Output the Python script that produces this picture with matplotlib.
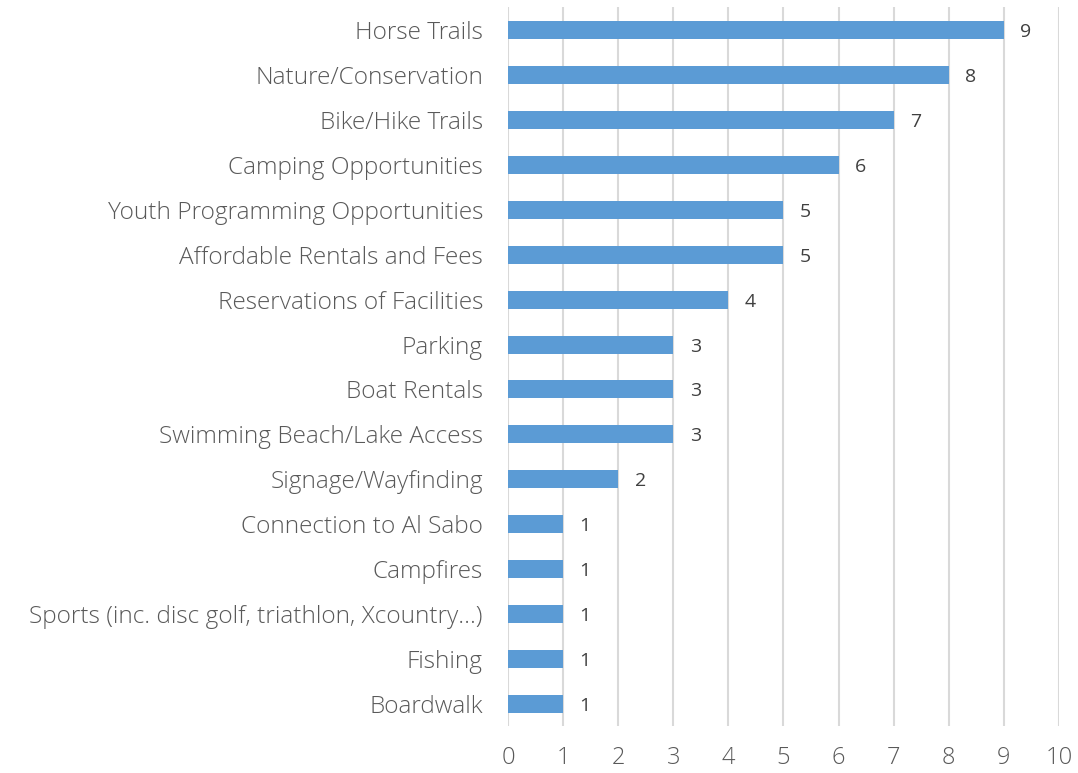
import numpy as np
import matplotlib.pyplot as plt
from matplotlib import rcParams

rcParams['font.family'] = ['Open Sans', 'DejaVu Sans']
rcParams['font.weight'] = 'light'
rcParams['text.color'] = '#595959'

# survey responses, top to bottom
categories = ['Horse Trails', 'Nature/Conservation', 'Bike/Hike Trails',
              'Camping Opportunities', 'Youth Programming Opportunities',
              'Affordable Rentals and Fees', 'Reservations of Facilities',
              'Parking', 'Boat Rentals', 'Swimming Beach/Lake Access',
              'Signage/Wayfinding', 'Connection to Al Sabo', 'Campfires',
              'Sports (inc. disc golf, triathlon, Xcountry\u2026)', 'Fishing',
              'Boardwalk']
counts = [9, 8, 7, 6, 5, 5, 4, 3, 3, 3, 2, 1, 1, 1, 1, 1]
xticks = list(range(0, 11))

fig = plt.figure(figsize=(10.78, 7.73), dpi=100)
ax = fig.add_axes([0.4712, 0.0602, 0.5112, 0.9301])

y = np.arange(len(categories))
ax.barh(y, counts, height=0.4, color='#5B9BD5', zorder=3)
for yi, v in zip(y, counts):
    ax.text(v + 0.3, yi, str(v), va='center_baseline', ha='left',
            fontsize=14, color='#404040', fontweight='normal')

ax.set_yticks(y)
ax.set_yticklabels(categories, fontsize=17.6, color='#595959')
ax.set_ylim(len(categories) - 0.5, -0.5)
ax.set_xlim(0, 10)
ax.set_xticks(xticks)
ax.set_xticklabels([str(t) for t in xticks], fontsize=17, color='#595959')
ax.tick_params(axis='both', length=0)
ax.tick_params(axis='x', pad=14)
ax.tick_params(axis='y', pad=18)

ax.grid(axis='x', color='#D9D9D9', linewidth=1.5, zorder=0)
for s in ax.spines.values():
    s.set_visible(False)

fig.savefig('out.png', dpi=100)
